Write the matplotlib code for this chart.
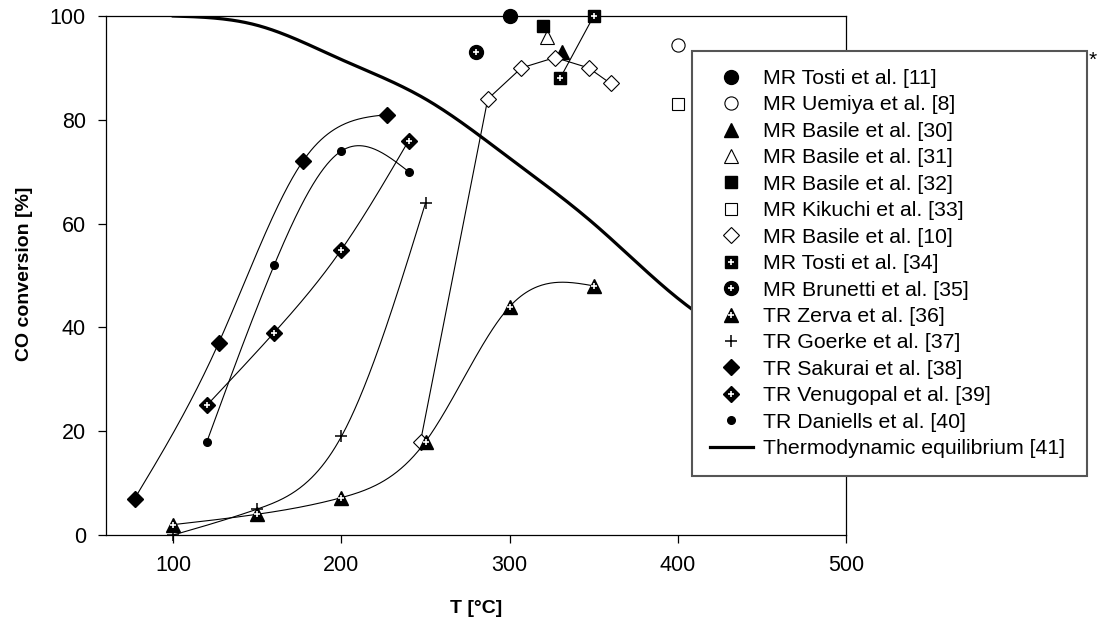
import numpy as np
import matplotlib
matplotlib.use("Agg")
import matplotlib.pyplot as plt
from matplotlib.lines import Line2D

plt.rcParams['font.family'] = ['Liberation Sans', 'DejaVu Sans']

# ---------------- data ----------------
tosti11_T, tosti11_Y = [300], [100]
uemiya_T, uemiya_Y = [400], [94.5]
basile30_T, basile30_Y = [331], [93]
basile31_T, basile31_Y = [322], [96]
basile32_T, basile32_Y = [320], [98]
kikuchi_T, kikuchi_Y = [400], [83]
basile10_T = [247, 287, 307, 327, 347, 360]
basile10_Y = [18, 84, 90, 92, 90, 87]
tosti34_T, tosti34_Y = [330, 350], [88, 100]
brunetti_T, brunetti_Y = [280], [93]
zerva_T = [100, 150, 200, 250, 300, 350]
zerva_Y = [2, 4, 7.2, 18, 44, 48]
goerke_T = [100, 150, 200, 250]
goerke_Y = [0, 5, 19, 64]
sakurai_T = [77, 127, 177, 227]
sakurai_Y = [7, 37, 72, 81]
venugopal_T = [120, 160, 200, 240]
venugopal_Y = [25, 39, 55, 76]
daniells_T = [120, 160, 200, 240]
daniells_Y = [18, 52, 74, 70]
equil_T = [100, 150, 200, 250, 300, 350, 400, 450, 500]
equil_Y = [100, 98.2, 91.6, 84, 72.6, 60, 45.6, 35, 26.5]

labels = ["MR Tosti et al. [11]", "MR Uemiya et al. [8]", "MR Basile et al. [30]",
          "MR Basile et al. [31]", "MR Basile et al. [32]", "MR Kikuchi et al. [33]",
          "MR Basile et al. [10]", "MR Tosti et al. [34]", "MR Brunetti et al. [35]",
          "TR Zerva et al. [36]", "TR Goerke et al. [37]", "TR Sakurai et al. [38]",
          "TR Venugopal et al. [39]", "TR Daniells et al. [40]",
          "Thermodynamic equilibrium [41]"]


def nat_spline(x, y, num=300):
    x = np.asarray(x, float)
    y = np.asarray(y, float)
    n = len(x)
    if n < 3:
        return x, y
    h = np.diff(x)
    A = np.zeros((n, n))
    b = np.zeros(n)
    A[0, 0] = 1
    A[-1, -1] = 1
    for i in range(1, n - 1):
        A[i, i - 1] = h[i - 1]
        A[i, i] = 2 * (h[i - 1] + h[i])
        A[i, i + 1] = h[i]
        b[i] = 6 * ((y[i + 1] - y[i]) / h[i] - (y[i] - y[i - 1]) / h[i - 1])
    M = np.linalg.solve(A, b)
    xs = np.linspace(x[0], x[-1], num)
    idx = np.clip(np.searchsorted(x, xs) - 1, 0, n - 2)
    xi, xi1, hi = x[idx], x[idx + 1], h[idx]
    t1 = xi1 - xs
    t2 = xs - xi
    ys = (M[idx] * t1 ** 3 + M[idx + 1] * t2 ** 3) / (6 * hi) \
        + (y[idx] / hi - M[idx] * hi / 6) * t1 + (y[idx + 1] / hi - M[idx + 1] * hi / 6) * t2
    return xs, ys


fig = plt.figure(figsize=(10.99, 6.21), dpi=100)
ax = fig.add_axes([106 / 1099, 1 - 535 / 621, 740 / 1099, 519 / 621])
ax.set_xlim(60, 500)
ax.set_ylim(0, 100)

LW = 0.8
K = 'black'

# equilibrium
ex, ey = nat_spline(equil_T, equil_Y)
ax.plot(ex, ey, color=K, lw=2.3, zorder=2)

# series lines
for T, Y in [(zerva_T, zerva_Y), (goerke_T, goerke_Y),
             (sakurai_T, sakurai_Y), (venugopal_T, venugopal_Y), (daniells_T, daniells_Y)]:
    sx, sy = nat_spline(T, Y)
    ax.plot(sx, sy, color=K, lw=LW, zorder=3, clip_on=False)
ax.plot(basile10_T, basile10_Y, color=K, lw=LW, zorder=3)
ax.plot(tosti34_T, tosti34_Y, color=K, lw=LW, zorder=3)

# marker styles
styles = [
    dict(marker='o', ms=10, mfc=K, mec=K),
    dict(marker='o', ms=9.5, mfc='white', mec=K, mew=0.8),
    dict(marker='^', ms=9.5, mfc=K, mec=K),
    dict(marker='^', ms=9.5, mfc='white', mec=K, mew=0.8),
    dict(marker='s', ms=8.5, mfc=K, mec=K),
    dict(marker='s', ms=8, mfc='white', mec=K, mew=0.8),
    dict(marker='D', ms=7.8, mfc='white', mec=K, mew=0.8),
    dict(marker='s', ms=8.5, mfc=K, mec=K),
    dict(marker='o', ms=10, mfc=K, mec=K),
    dict(marker='^', ms=10, mfc=K, mec=K),
    dict(marker='+', ms=8, mfc=K, mec=K, mew=1.1),
    dict(marker='D', ms=8, mfc=K, mec=K),
    dict(marker='D', ms=8, mfc=K, mec=K),
    dict(marker='o', ms=5.5, mfc=K, mec=K),
]
plus_flags = [False, False, False, False, False, False, False, True, True, True, False, False, True, False]
plus_ms = [0, 0, 0, 0, 0, 0, 0, 4.5, 4.5, 4.5, 0, 0, 4.5, 0]
series = [(tosti11_T, tosti11_Y), (uemiya_T, uemiya_Y), (basile30_T, basile30_Y),
          (basile31_T, basile31_Y), (basile32_T, basile32_Y), (kikuchi_T, kikuchi_Y),
          (basile10_T, basile10_Y), (tosti34_T, tosti34_Y), (brunetti_T, brunetti_Y),
          (zerva_T, zerva_Y), (goerke_T, goerke_Y), (sakurai_T, sakurai_Y),
          (venugopal_T, venugopal_Y), (daniells_T, daniells_Y)]

handles = []
for (T, Y), st, pf, pm in zip(series, styles, plus_flags, plus_ms):
    ax.plot(T, Y, ls='none', zorder=4, clip_on=False, **st)
    h = Line2D([], [], ls='none', **st)
    if pf:
        ax.plot(T, Y, ls='none', marker='+', ms=pm, mec='white', mew=1.2, zorder=5, clip_on=False)
        h2 = Line2D([], [], ls='none', marker='+', ms=pm, mec='white', mew=1.2)
        handles.append((h, h2))
    else:
        handles.append(h)
handles.append(Line2D([], [], color=K, lw=2.3))

# axes styling
for s in ax.spines.values():
    s.set_linewidth(0.9)
ax.set_xticks([100, 200, 300, 400, 500])
ax.set_yticks([0, 20, 40, 60, 80, 100])
ax.tick_params(direction='out', length=5.5, width=0.9, labelsize=15.5,
               top=False, right=False)
ax.tick_params(axis='x', pad=9)
ax.tick_params(axis='y', pad=9)
ax.set_xlabel("T [°C]", fontsize=14, fontweight='bold')
ax.set_ylabel("CO conversion [%]", fontsize=14, fontweight='bold')
ax.xaxis.set_label_coords(0.5, -0.1407)
ax.xaxis.label.set_va('center')
ax.yaxis.set_label_coords(-0.1108, 0.503)
ax.yaxis.label.set_va('center')

leg = fig.legend(handles, labels, loc='upper left',
                 bbox_to_anchor=(692 / 1099, 1 - 51 / 621, 395 / 1099, 0.0),
                 mode='expand', fontsize=15.3, frameon=True, fancybox=False,
                 edgecolor='#555555', framealpha=1, borderpad=0.85, labelspacing=0.35,
                 handlelength=2.0, handletextpad=0.5, borderaxespad=0)
leg.get_frame().set_linewidth(1.5)
leg.set_zorder(10)

fig.text(1093 / 1099, 1 - 60 / 621, "*", fontsize=15, ha='center', va='center')

fig.savefig("out.png", dpi=100)
